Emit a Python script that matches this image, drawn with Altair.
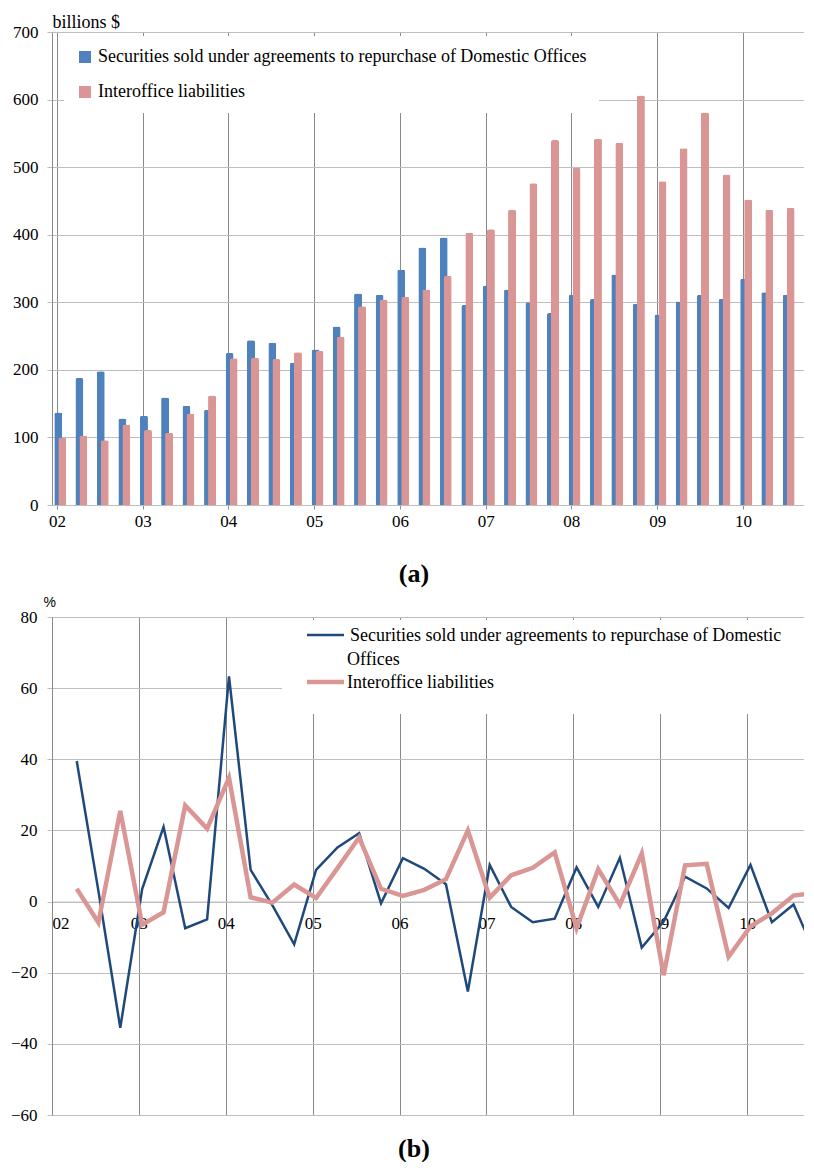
import altair as alt
import pandas as pd

# ---------------- data ----------------
years = list(range(2002, 2011))
quarter_months = ["01", "04", "07", "10"]
dates = [f"{y}-{m}-15" for y in years for m in quarter_months]

series_names = [
    "Securities sold under agreements to repurchase of Domestic Offices",
    "Interoffice liabilities",
]

# billions $ (panel a)
repo_levels = [137, 188, 198, 128,
               132, 159, 147, 141,
               225, 244, 240, 211,
               230, 264, 313, 311,
               348, 381, 396, 296,
               325, 319, 300, 284,
               311, 305, 341, 298,
               282, 301, 311, 305,
               335, 315, 311, 266]
interoffice_levels = [100, 103, 96, 119,
                      111, 107, 135, 162,
                      217, 218, 216, 226,
                      228, 249, 294, 304,
                      308, 319, 339, 403,
                      408, 437, 476, 540,
                      499, 542, 536, 606,
                      479, 528, 581, 489,
                      452, 437, 440, 451]

# % change (panel b), from 2002Q2
repo_growth = [39.5, 3, -35.5,
               3.5, 21, -7.5, -5,
               63.3, 8.9, -1, -12,
               8.9, 15.2, 19.2, -0.5,
               12.2, 9.2, 4.9, -25.3,
               10.3, -1.5, -5.8, -4.8,
               9.6, -1.5, 12.3, -12.9,
               -5.6, 7.0, 3.7, -1.8,
               10.3, -5.8, -0.8, -14.8]
interoffice_growth = [3.6, -5.9, 25.5,
                      -6.5, -3, 27, 20.5,
                      34.8, 1.2, -0.3, 4.8,
                      1.0, 9.4, 18, 3.6,
                      1.6, 3.3, 6.3, 20,
                      1.1, 7.4, 9.5, 13.8,
                      -7.5, 9.1, -0.9, 13.5,
                      -20.7, 10.2, 10.6, -15.5,
                      -7.0, -3.3, 1.7, 2.5]

y_ticks_a = [0, 100, 200, 300, 400, 500, 600, 700]
y_ticks_b = [-60, -40, -20, 0, 20, 40, 60, 80]

# ---------------- style ----------------
FONT = "Liberation Serif"
BLUE_BAR = "#4F81BD"
PINK = "#D99694"
BLUE_LINE = "#1F497D"
HGRID = "#BEBEBE"
VGRID = "#8A8A8A"

W = 752
H_A = 473
H_B = 498

x_end = alt.DateTime(year=2010, month=8, date=28, utc=True)
x_domain = [alt.DateTime(year=2002, month=1, date=1, utc=True), x_end]
x_values = [alt.DateTime(year=y, month=1, date=1, utc=True) for y in years]
x_scale = alt.Scale(type="utc", domain=x_domain)

df_a = pd.DataFrame({
    "date": dates * 2,
    "series": [series_names[0]] * len(dates) + [series_names[1]] * len(dates),
    "value": repo_levels + interoffice_levels,
})

df_b = pd.DataFrame({
    "date": dates[1:] * 2,
    "series": [series_names[0]] * (len(dates) - 1) + [series_names[1]] * (len(dates) - 1),
    "value": repo_growth + interoffice_growth,
})

# ---------------- panel a ----------------
x_axis_a = alt.Axis(values=x_values, labelExpr="utcFormat(datum.value, '%y')",
                    title=None, grid=True, gridColor=VGRID, gridWidth=1,
                    domainColor=HGRID, tickColor=VGRID, tickSize=4,
                    labelFont=FONT, labelFontSize=17, labelColor="black",
                    labelPadding=4, labelAngle=0)
y_axis_a = alt.Axis(values=y_ticks_a, title="billions $", titleAngle=0,
                    titleAlign="left", titleBaseline="alphabetic", titleX=0, titleY=-5,
                    titleFont=FONT, titleFontSize=18, titleFontWeight="normal",
                    titleColor="black",
                    grid=True, gridColor=HGRID, domainColor=VGRID, tickColor=HGRID,
                    tickSize=5, labelFont=FONT, labelFontSize=17, labelColor="black",
                    labelPadding=9)

color_a = alt.Color("series:N",
                    scale=alt.Scale(domain=series_names, range=[BLUE_BAR, PINK]),
                    legend=alt.Legend(title=None, orient="none", legendX=12, legendY=4,
                                      direction="vertical", fillColor="white",
                                      padding=12, symbolType="square", symbolSize=144,
                                      symbolStrokeWidth=0,
                                      labelFont=FONT, labelFontSize=18,
                                      labelColor="black", rowPadding=17,
                                      labelOffset=4, labelLimit=800))

base_a = alt.Chart(df_a).transform_filter(
    alt.FieldLTEPredicate(field="date", lte=x_end)
).encode(
    x=alt.X("date:T", scale=x_scale, axis=x_axis_a),
    y=alt.Y("value:Q", scale=alt.Scale(domain=[0, 700]), axis=y_axis_a),
    color=color_a,
)
bars_repo = base_a.transform_filter(
    alt.datum.series == series_names[0]
).mark_bar(size=8, xOffset=-2, cornerRadiusTopLeft=2, cornerRadiusTopRight=2)
bars_inter = base_a.transform_filter(
    alt.datum.series == series_names[1]
).mark_bar(size=8, xOffset=2, cornerRadiusTopLeft=2, cornerRadiusTopRight=2)

panel_a = alt.layer(bars_repo, bars_inter).properties(
    width=W, height=H_A,
    title=alt.TitleParams("(a)", orient="bottom", anchor="middle", frame="group",
                          dx=-14, offset=32, font=FONT, fontSize=26,
                          fontWeight="bold", color="black"),
)

# ---------------- panel b ----------------
zero_offset = -(H_B * 60 / 140)
x_axis_b = alt.Axis(values=x_values, labelExpr="utcFormat(datum.value, '%y')",
                    title=None, grid=True, gridColor=VGRID, gridWidth=1,
                    domainColor=HGRID, ticks=False, offset=zero_offset,
                    labelFont=FONT, labelFontSize=17, labelColor="black",
                    labelPadding=14, labelAngle=0)
y_axis_b = alt.Axis(values=y_ticks_b, title="%", titleAngle=0,
                    titleAlign="left", titleBaseline="alphabetic", titleX=-9, titleY=-11,
                    titleFont="Liberation Sans", titleFontSize=14, titleFontWeight="normal",
                    titleColor="black",
                    grid=True, gridColor=HGRID, domainColor=VGRID, tickColor=HGRID,
                    tickSize=5, labelFont=FONT, labelFontSize=17, labelColor="black",
                    labelPadding=10)

base_b = alt.Chart(df_b).encode(
    x=alt.X("date:T", scale=x_scale, axis=x_axis_b),
    y=alt.Y("value:Q", scale=alt.Scale(domain=[-60, 80]), axis=y_axis_b),
)
line_repo = base_b.transform_filter(
    alt.datum.series == series_names[0]
).mark_line(color=BLUE_LINE, strokeWidth=2.5, clip=True)
line_inter = base_b.transform_filter(
    alt.datum.series == series_names[1]
).mark_line(color=PINK, strokeWidth=4.5, clip=True)

one_row = pd.DataFrame({"k": [0]})
leg_box = alt.Chart(one_row).mark_rect(fill="white").encode(
    x=alt.value(230), x2=alt.value(W), y=alt.value(3), y2=alt.value(97))
leg_rule_repo = alt.Chart(one_row).mark_rule(color=BLUE_LINE, strokeWidth=2.5).encode(
    x=alt.value(255), x2=alt.value(292), y=alt.value(18))
leg_rule_inter = alt.Chart(one_row).mark_rule(color=PINK, strokeWidth=4.5).encode(
    x=alt.value(255), x2=alt.value(292), y=alt.value(65))
leg_text_1 = alt.Chart(one_row).mark_text(
    text="Securities sold under agreements to repurchase of Domestic",
    align="left", baseline="middle", font=FONT, fontSize=18, color="black"
).encode(x=alt.value(298), y=alt.value(19))
leg_text_2 = alt.Chart(one_row).mark_text(
    text="Offices", align="left", baseline="middle", font=FONT, fontSize=18, color="black"
).encode(x=alt.value(295), y=alt.value(43))
leg_text_3 = alt.Chart(one_row).mark_text(
    text=series_names[1], align="left", baseline="middle", font=FONT, fontSize=18,
    color="black"
).encode(x=alt.value(295), y=alt.value(66))

panel_b = alt.layer(
    line_repo, line_inter, leg_box, leg_rule_repo, leg_rule_inter,
    leg_text_1, leg_text_2, leg_text_3
).properties(
    width=W, height=H_B,
    title=alt.TitleParams("(b)", orient="bottom", anchor="middle", frame="group",
                          dx=-14, offset=13, font=FONT, fontSize=26,
                          fontWeight="bold", color="black"),
)

chart = alt.vconcat(panel_a, panel_b, spacing=8).resolve_scale(
    color="independent"
).properties(
    padding={"left": 2, "top": 5, "right": 0, "bottom": 0},
).configure_view(stroke=None)

chart.save("out.html", embed_options={"renderer": "svg", "actions": False})
